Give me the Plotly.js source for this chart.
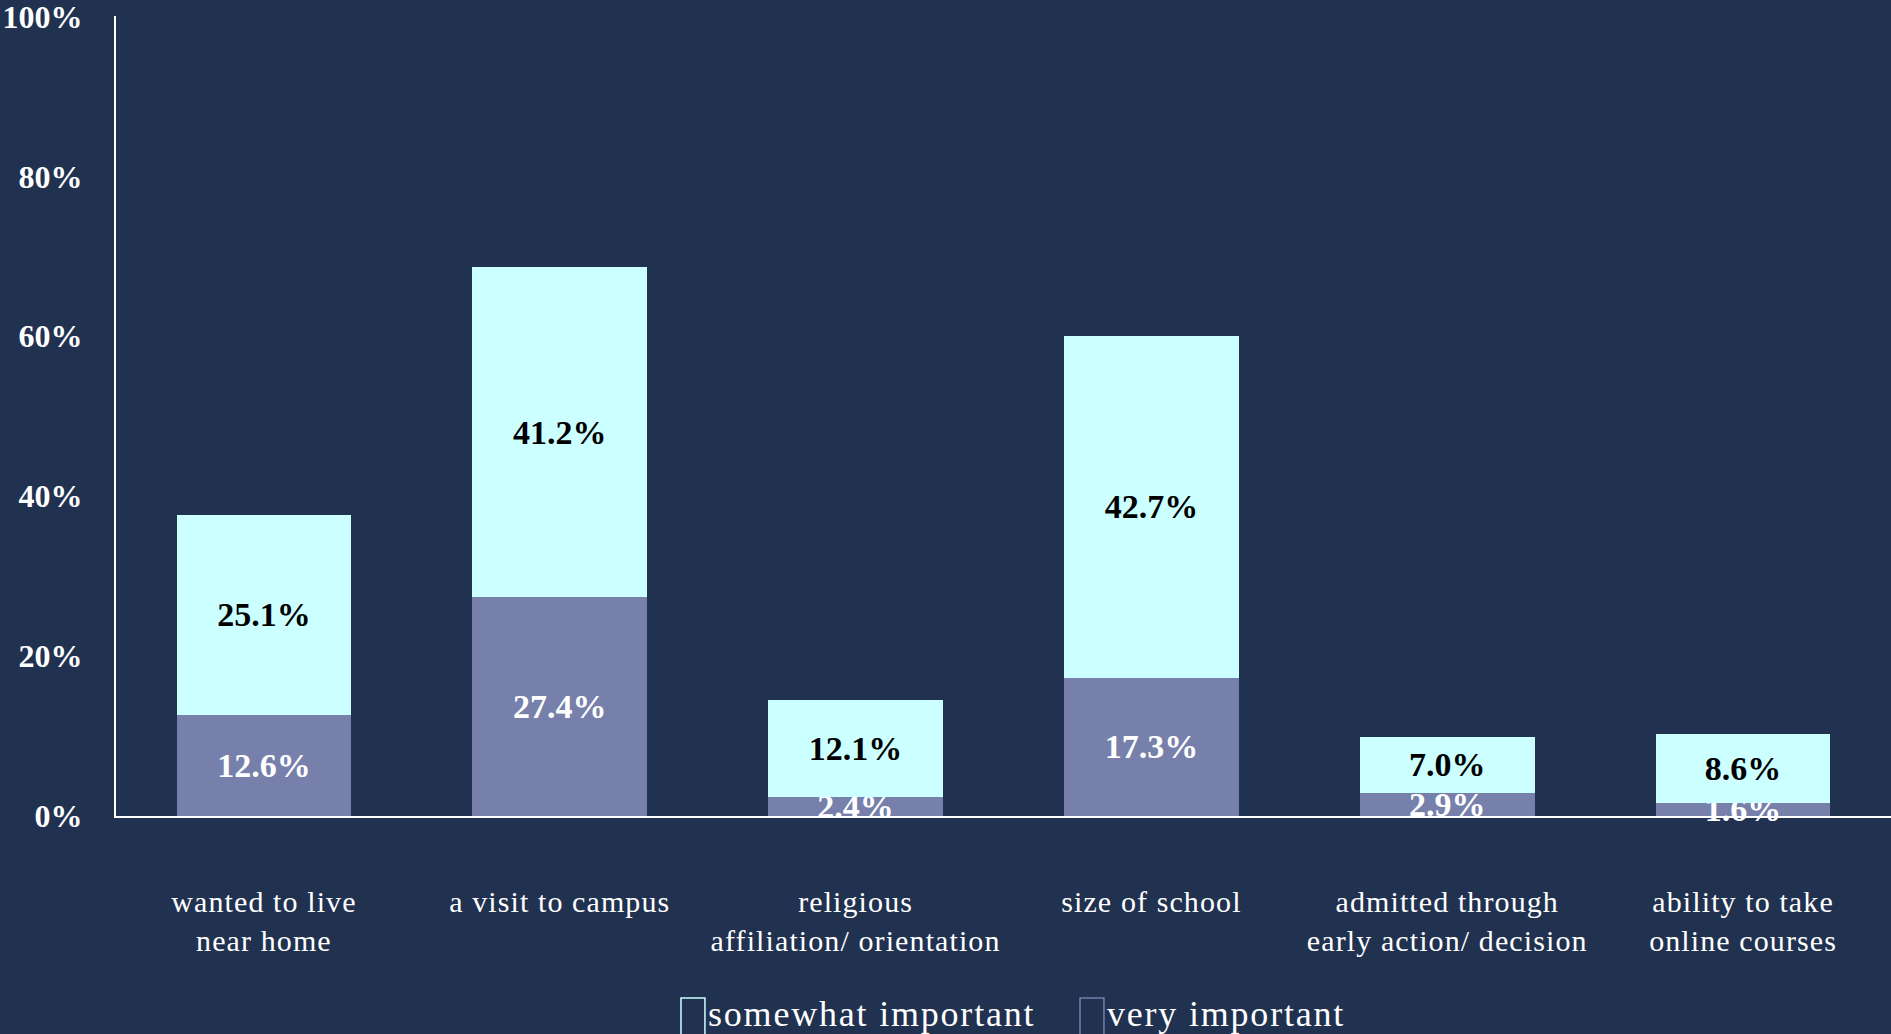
<!DOCTYPE html>
<html>
<head>
<meta charset="utf-8">
<script src="https://cdn.plot.ly/plotly-3.0.1.min.js"></script>
<style>
html,body{margin:0;padding:0;background:#213150;}
#chart{width:1891px;height:1034px;}
.xtick text{letter-spacing:1.1px;}
.annotation-text{letter-spacing:1.8px;}
</style>
</head>
<body>
<div id="chart"></div>
<script>
const categories = ['wanted to live<br>near home', 'a visit to campus', 'religious<br>affiliation/ orientation', 'size of school', 'admitted through<br>early action/ decision', 'ability to take<br>online courses'];
const seriesNames = ['somewhat important', 'very important'];
const veryImportant = [12.6, 27.4, 2.4, 17.3, 2.9, 1.6];
const somewhatImportant = [25.1, 41.2, 12.1, 42.7, 7.0, 8.6];
const yTicks = [0, 20, 40, 60, 80, 100];
const colors = {somewhat: '#CCFFFF', very: '#7680AB', bg: '#213150'};

const serif = '"Liberation Serif", "Times New Roman", serif';

const traces = [
  {
    type: 'bar', name: seriesNames[1], x: categories, y: veryImportant,
    marker: {color: colors.very},
    text: veryImportant.map(v => v.toFixed(1) + '%'),
    textposition: 'inside', insidetextanchor: 'middle', textangle: 0, constraintext: 'none',
    textfont: {family: serif, size: 34, color: '#FFFFFF', weight: 'bold'},
    showlegend: false, hoverinfo: 'skip', cliponaxis: false
  },
  {
    type: 'bar', name: seriesNames[0], x: categories, y: somewhatImportant,
    marker: {color: colors.somewhat},
    text: somewhatImportant.map(v => v.toFixed(1) + '%'),
    textposition: 'inside', insidetextanchor: 'middle', textangle: 0, constraintext: 'none',
    textfont: {family: serif, size: 34, color: '#000000', weight: 'bold'},
    showlegend: false, hoverinfo: 'skip', cliponaxis: false
  }
];

// legend key boxes (paper coordinates)
const legendY = -0.2475;
const boxTop = -0.2275, boxBottom = -0.2806;
const legendItems = [
  {name: seriesNames[0], color: colors.somewhat, x0: 0.3183, x1: 0.3318},
  {name: seriesNames[1], color: colors.very, x0: 0.5431, x1: 0.5566}
];

const layout = {
  width: 1891, height: 1034,
  paper_bgcolor: colors.bg, plot_bgcolor: colors.bg,
  margin: {l: 116, r: 0, t: 16, b: 218},
  barmode: 'stack', bargap: 0.41,
  showlegend: false,
  xaxis: {
    type: 'category', showgrid: false, zeroline: false,
    showline: true, linecolor: '#FFFFFF', linewidth: 2,
    ticks: '', ticklabelstandoff: 58,
    tickfont: {family: serif, size: 30, color: '#FFFFFF'}
  },
  yaxis: {
    range: [0, 100.05], tickvals: yTicks, ticktext: yTicks.map(v => v + '%'),
    showgrid: false, zeroline: false,
    showline: true, linecolor: '#FFFFFF', linewidth: 2,
    ticks: '', ticklabelstandoff: 25, ticklabeloverflow: 'allow',
    tickfont: {family: serif, size: 32, color: '#FFFFFF', weight: 'bold'}
  },
  shapes: legendItems.map(it => ({
    type: 'rect', xref: 'paper', yref: 'paper', layer: 'above',
    x0: it.x0, x1: it.x1, y0: boxBottom, y1: boxTop,
    line: {color: it.color, width: 1.5}, fillcolor: 'rgba(0,0,0,0)'
  })),
  annotations: legendItems.map(it => ({
    xref: 'paper', yref: 'paper', x: it.x1 + 0.0005, y: legendY, xanchor: 'left', yanchor: 'middle',
    showarrow: false, text: it.name,
    font: {family: serif, size: 36, color: '#FFFFFF'}
  }))
};

Plotly.newPlot('chart', traces, layout, {staticPlot: true, displayModeBar: false});
</script>
</body>
</html>
